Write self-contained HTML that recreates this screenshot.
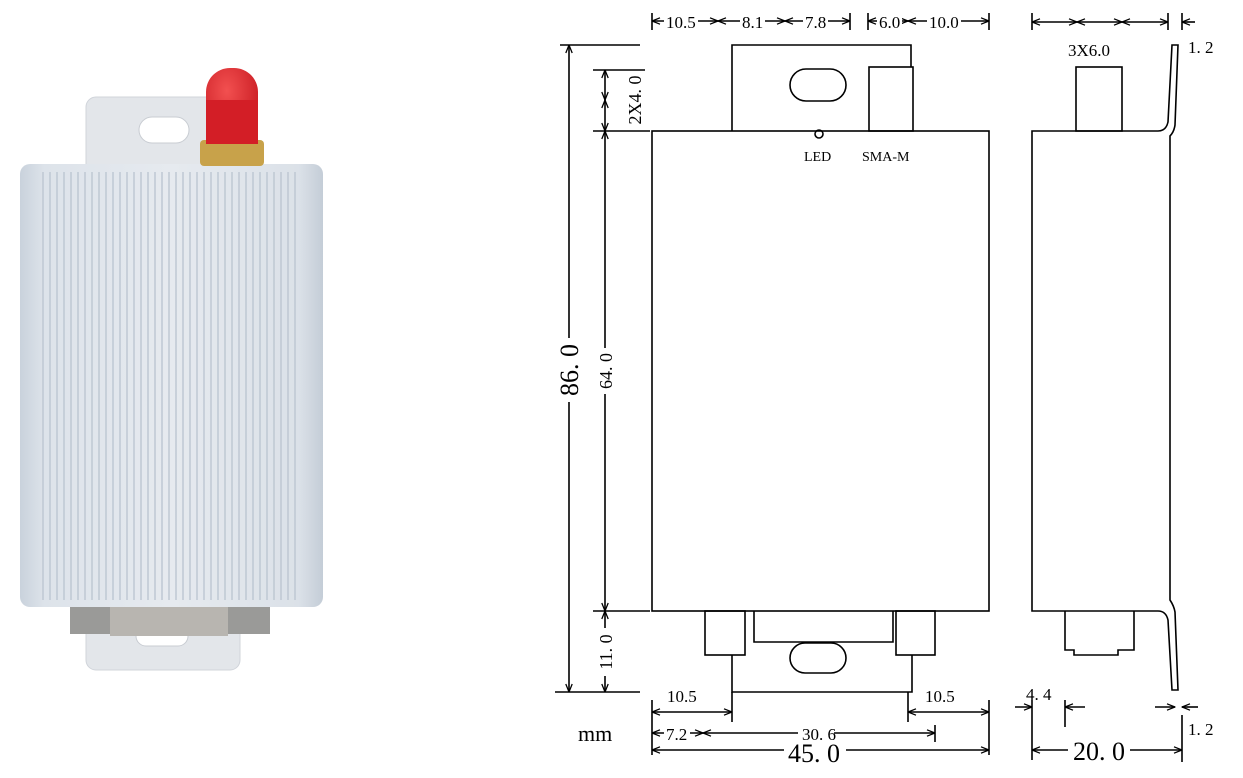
<!DOCTYPE html>
<html><head><meta charset="utf-8"><style>
html,body{margin:0;padding:0;background:#fff;}
svg{display:block;}
text{font-family:"Liberation Serif",serif;fill:#000;}
</style></head><body>
<svg width="1243" height="778" viewBox="0 0 1243 778" xmlns="http://www.w3.org/2000/svg">
<defs>
<linearGradient id="body" x1="0" x2="1" y1="0" y2="0">
<stop offset="0" stop-color="#c9d2dc"/><stop offset="0.08" stop-color="#dde3ea"/><stop offset="0.5" stop-color="#e6eaef"/><stop offset="0.92" stop-color="#dbe1e8"/><stop offset="1" stop-color="#c4cdd7"/>
</linearGradient>
<pattern id="ribs" width="7" height="10" patternUnits="userSpaceOnUse">
<rect x="0" width="2" height="10" fill="#bcc6d2" opacity="0.7"/>
</pattern>
<radialGradient id="cap" cx="0.4" cy="0.3" r="0.8"><stop offset="0" stop-color="#f25050"/><stop offset="1" stop-color="#c4141c"/></radialGradient>
<marker id="a" viewBox="0 0 10 10" refX="10" refY="5" markerWidth="9" markerHeight="8" markerUnits="userSpaceOnUse" orient="auto-start-reverse"><path d="M0,1 L10,5 L0,9" fill="none" stroke="#000" stroke-width="1.6"/></marker>
</defs>

<!-- PHOTO -->
<rect x="86" y="97" width="154" height="573" rx="10" fill="#e3e6ea" stroke="#d0d4da"/>
<rect x="139" y="117" width="50" height="26" rx="13" fill="#fff" stroke="#c8ccd2"/>
<rect x="136" y="622" width="52" height="24" rx="10" fill="#fff" stroke="#c8ccd2"/>
<rect x="70" y="600" width="200" height="34" fill="#9a9a98"/>
<rect x="110" y="600" width="118" height="36" fill="#b8b5b0"/>
<rect x="20" y="164" width="303" height="443" rx="10" fill="url(#body)"/>
<rect x="42" y="172" width="255" height="428" fill="url(#ribs)"/>
<rect x="200" y="140" width="64" height="26" rx="4" fill="#c8a24a"/>
<rect x="206" y="68" width="52" height="76" rx="24" fill="url(#cap)"/>
<rect x="206" y="100" width="52" height="44" fill="#d31e26"/>

<g fill="none" stroke="#000" stroke-width="1.6">
<rect x="652" y="131" width="337" height="480"/>
<path d="M732 131 V45 H911 V67"/>
<rect x="869" y="67" width="44" height="64"/>
<rect x="790" y="69" width="56" height="32" rx="16"/>
<circle cx="819" cy="134" r="4"/>
<rect x="705" y="611" width="40" height="44"/>
<rect x="896" y="611" width="39" height="44"/>
<path d="M754 611 V642 H893 V611"/>
<path d="M732 655 V692 H912 V655"/>
<rect x="790" y="643" width="56" height="30" rx="15"/>
<path d="M1032 131 H1158 Q1166 131 1168 122 L1172 45 H1178 L1175 125 Q1174 132 1170 136 L1170 600 Q1174 606 1175 612 L1178 690 H1172 L1168 620 Q1166 611 1158 611 H1032 Z"/>
<rect x="1076" y="67" width="46" height="64"/>
<path d="M1065 611 V650 H1074 V655 H1118 V650 H1134 V611"/>
<path d="M560 45 H640 M593 70 H645 M593 131 H650 M593 611 H650 M555 692 H640"/>
<path d="M569 45 V692" marker-start="url(#a)" marker-end="url(#a)"/>
<path d="M605 70 V100" marker-start="url(#a)" marker-end="url(#a)"/>
<path d="M605 100 V131" marker-start="url(#a)" marker-end="url(#a)"/>
<path d="M605 131 V611" marker-start="url(#a)" marker-end="url(#a)"/>
<path d="M605 611 V692" marker-start="url(#a)" marker-end="url(#a)"/>
<path d="M652 13 V30 M989 13 V30 M868 13 V30 M850 13 V30"/>
<path d="M652 21 H718" marker-start="url(#a)" marker-end="url(#a)"/>
<path d="M718 21 H785" marker-start="url(#a)" marker-end="url(#a)"/>
<path d="M785 21 H850" marker-start="url(#a)" marker-end="url(#a)"/>
<path d="M868 21 H908" marker-start="url(#a)" marker-end="url(#a)"/>
<path d="M908 21 H989" marker-start="url(#a)" marker-end="url(#a)"/>
<path d="M1032 13 V30 M1168 13 V30 M1182 13 V30"/>
<path d="M1032 22 H1077" marker-start="url(#a)" marker-end="url(#a)"/>
<path d="M1077 22 H1122" marker-start="url(#a)" marker-end="url(#a)"/>
<path d="M1122 22 H1168" marker-start="url(#a)" marker-end="url(#a)"/>
<path d="M1182 22 H1195" marker-start="url(#a)"/>
<path d="M652 700 V755 M989 700 V755 M732 692 V722 M908 692 V722 M935 725 V742"/>
<path d="M652 712 H732" marker-start="url(#a)" marker-end="url(#a)"/>
<path d="M908 712 H989" marker-start="url(#a)" marker-end="url(#a)"/>
<path d="M652 733 H703" marker-start="url(#a)" marker-end="url(#a)"/>
<path d="M703 733 H935" marker-start="url(#a)" marker-end="url(#a)"/>
<path d="M652 750 H989" marker-start="url(#a)" marker-end="url(#a)"/>
<path d="M1032 700 V760 M1065 700 V727 M1182 715 V762"/>
<path d="M1015 707 H1032" marker-end="url(#a)"/>
<path d="M1085 707 H1065" marker-end="url(#a)"/>
<path d="M1155 707 H1175" marker-end="url(#a)"/>
<path d="M1198 707 H1182" marker-end="url(#a)"/>
<path d="M1032 750 H1182" marker-start="url(#a)" marker-end="url(#a)"/>
</g>

<g fill="#fff">
<rect x="664" y="12" width="34" height="18"/><rect x="740" y="12" width="25" height="18"/>
<rect x="803" y="12" width="25" height="18"/><rect x="877" y="12" width="25" height="18"/>
<rect x="927" y="12" width="34" height="18"/>
<rect x="664" y="724" width="26" height="18"/><rect x="798" y="724" width="36" height="18"/>
<rect x="784" y="737" width="62" height="26"/><rect x="1068" y="737" width="62" height="26"/>
<rect x="558" y="338" width="24" height="64"/><rect x="596" y="348" width="20" height="46"/>
<rect x="596" y="628" width="20" height="48"/>
</g>

<g font-size="17">
<text x="666" y="28">10.5</text><text x="742" y="28">8.1</text><text x="805" y="28">7.8</text>
<text x="879" y="28">6.0</text><text x="929" y="28">10.0</text>
<text x="1068" y="56">3X6.0</text><text x="1188" y="53">1. 2</text>
<text x="804" y="161" font-size="14">LED</text><text x="862" y="161" font-size="14">SMA-M</text>
<text x="667" y="702">10.5</text><text x="925" y="702">10.5</text>
<text x="666" y="740">7.2</text><text x="802" y="740">30. 6</text>
<text x="1026" y="700">4. 4</text><text x="1188" y="735">1. 2</text>
</g>
<text x="788" y="762" font-size="26">45. 0</text>
<text x="1073" y="760" font-size="26">20. 0</text>
<text x="578" y="741" font-size="22" font-family="Liberation Sans,sans-serif">mm</text>
<text transform="translate(578,370) rotate(-90)" font-size="26" text-anchor="middle">86. 0</text>
<text transform="translate(612,371) rotate(-90)" font-size="18" text-anchor="middle">64. 0</text>
<text transform="translate(612,652) rotate(-90)" font-size="18" text-anchor="middle">11. 0</text>
<text transform="translate(641,100) rotate(-90)" font-size="18" text-anchor="middle">2X4. 0</text>
</svg>
</body></html>
